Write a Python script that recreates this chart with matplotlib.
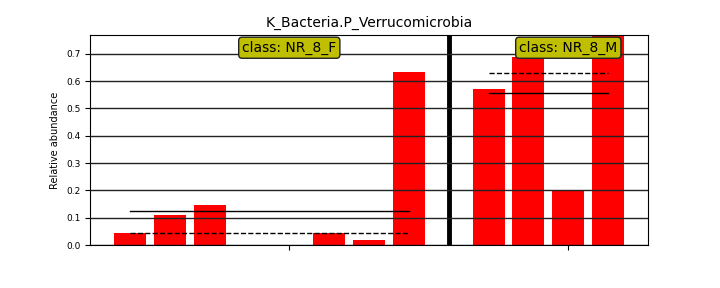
import numpy as np
import matplotlib
matplotlib.use("Agg")
import matplotlib.pyplot as plt

# relative abundance per sample
title = "K_Bacteria.P_Verrucomicrobia"
class_names = ["NR_8_F", "NR_8_M"]
values_f = [0.044, 0.110, 0.1465, 0.0, 0.0, 0.044, 0.0183, 0.634]
values_m = [0.571, 0.689, 0.199, 0.768]
bar_color = "r"

fig = plt.figure(figsize=(7.2, 2.88), dpi=100)
ax = fig.add_axes([0.125, 0.149, 0.775, 0.729])

groups = [values_f, values_m]
pos = 1
ticks = []
for i, vals in enumerate(groups):
    xs = np.arange(pos, pos + len(vals))
    ax.bar(xs, vals, width=0.8, color=bar_color, align="center")
    # mean (solid) and median (dashed) lines across the class
    ax.plot([xs[0], xs[-1]], [np.mean(vals)] * 2, color="k", lw=1)
    ax.plot([xs[0], xs[-1]], [np.median(vals)] * 2, color="k", lw=1, ls="--")
    mid = xs[0] + len(vals) // 2
    ticks.append(mid)
    ax.text(mid, 0.94, "class: " + class_names[i], transform=ax.get_xaxis_transform(),
            ha="center", va="center", fontsize=10,
            bbox=dict(boxstyle="round,pad=0.25", facecolor="y", edgecolor="#222222"), zorder=10)
    pos = xs[-1] + 1
    if i < len(groups) - 1:
        ax.axvline(pos, color="k", lw=3.5)
        pos += 1

ax.set_xlim(0, pos)
ax.set_ylim(0, max(max(g) for g in groups))
ax.set_xticks(ticks)
ax.set_xticklabels([])
ax.set_yticks(np.arange(0, 0.71, 0.1))
ax.tick_params(axis="y", labelsize=6.5)
ax.yaxis.grid(True, color="#222222", lw=1)
ax.set_axisbelow(False)
ax.set_ylabel("Relative abundance", fontsize=7)
ax.set_title(title, fontsize=10)

fig.savefig("out.png", dpi=100)
